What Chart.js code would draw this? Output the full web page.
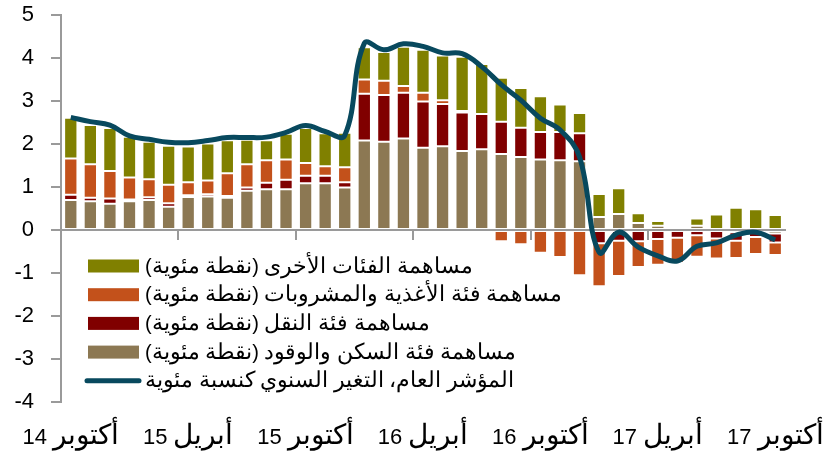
<!DOCTYPE html>
<html>
<head>
<meta charset="utf-8">
<script src="https://cdn.jsdelivr.net/npm/chart.js@4.4.1/dist/chart.umd.min.js"></script>
<style>
    @font-face {
        font-family: 'ArabicAxis';
        src: local('DejaVu Sans');
        unicode-range: U+0600-06FF, U+FB50-FDFF, U+FE70-FEFF;
        size-adjust: 128%;
    }
    @font-face {
        font-family: 'ArabicLegend';
        src: local('DejaVu Sans');
        unicode-range: U+0600-06FF, U+FB50-FDFF, U+FE70-FEFF;
        size-adjust: 112%;
    }
    html, body { margin: 0; padding: 0; background: #fff; }
    #wrap { width: 824px; height: 459px; }
</style>
</head>
<body>
<div id="wrap"><canvas id="chart" width="824" height="459"></canvas></div>
<script>
// Meses de outubro 2014 a outubro 2017
const monthNames = ['يناير', 'فبراير', 'مارس', 'أبريل', 'مايو', 'يونيو', 'يوليو', 'أغسطس', 'سبتمبر', 'أكتوبر', 'نوفمبر', 'ديسمبر'];
const categories = [];
for (let y = 14; y <= 17; y++) {
    for (let m = 0; m < 12; m++) {
        if ((y === 14 && m < 9) || (y === 17 && m > 9)) continue;
        categories.push(monthNames[m] + ' ' + y);
    }
}

// Rótulos exibidos no eixo x (a cada 6 meses)
const tickLabels = ['أكتوبر 14', 'أبريل 15', 'أكتوبر 15', 'أبريل 16', 'أكتوبر 16', 'أبريل 17', 'أكتوبر 17'];

// Contribuições (pontos percentuais)
const housing = [0.70, 0.67, 0.61, 0.67, 0.70, 0.54, 0.77, 0.78, 0.75, 0.91, 0.95, 0.95, 1.09, 1.09, 0.99,
    2.08, 2.05, 2.13, 1.91, 1.95, 1.84, 1.88, 1.77, 1.70, 1.64, 1.62, 1.60,
    0.30, 0.37, 0.16, 0.10, 0.03, 0.10, 0.00, -0.05, -0.04, -0.08];
const transport = [0.12, 0.08, 0.12, 0.04, 0.06, 0.08, 0.04, 0.05, 0.04, 0.08, 0.15, 0.22, 0.17, 0.17, 0.12,
    1.09, 1.09, 1.06, 1.08, 0.98, 0.89, 0.82, 0.75, 0.68, 0.64, 0.66, 0.65,
    -0.31, -0.25, -0.26, -0.21, -0.18, -0.12, -0.20, -0.20, -0.12, -0.21];
const food = [0.84, 0.78, 0.64, 0.51, 0.42, 0.43, 0.30, 0.32, 0.53, 0.54, 0.52, 0.47, 0.30, 0.22, 0.35,
    0.33, 0.33, 0.16, 0.20, 0.09, 0.04, -0.05, -0.26, -0.33, -0.53, -0.63, -1.05,
    -1.00, -0.82, -0.60, -0.60, -0.58, -0.50, -0.46, -0.40, -0.40, -0.29];
const other = [0.95, 0.91, 1.00, 0.95, 0.87, 0.91, 0.83, 0.86, 0.77, 0.57, 0.47, 0.60, 0.81, 0.77, 0.80,
    0.75, 0.67, 0.91, 1.00, 1.04, 1.26, 1.16, 1.02, 0.92, 0.83, 0.64, 0.47,
    0.54, 0.60, 0.23, 0.11, -0.03, 0.17, 0.36, 0.52, 0.48, 0.35];

// Índice geral, variação anual (%)
const headline = [2.62, 2.52, 2.44, 2.19, 2.11, 2.04, 2.03, 2.08, 2.15, 2.15, 2.16, 2.27, 2.43, 2.29, 2.20,
    4.34, 4.19, 4.33, 4.27, 4.12, 4.10, 3.80, 3.38, 3.02, 2.60, 2.33, 1.70,
    -0.52, -0.05, -0.40, -0.60, -0.72, -0.38, -0.30, -0.12, -0.05, -0.23];

const AXIS_FONT = '"ArabicAxis", "Liberation Sans", Arial, sans-serif';
const LEGEND_FONT = '"ArabicLegend", "Liberation Sans", Arial, sans-serif';
const AXIS_GRAY = '#9a9a9a';

// Legenda desenhada dentro da área do gráfico
const insideLegend = {
    id: 'insideLegend',
    afterDraw(chart) {
        const ctx = chart.ctx;
        const x0 = chart.chartArea.left + 27;
        const y0 = chart.chartArea.top + 251;
        const step = 28.7;
        const order = [3, 2, 1, 0, 4];
        ctx.save();
        order.forEach((idx, i) => {
            const ds = chart.data.datasets[idx];
            const cy = y0 + i * step;
            if (ds.type === 'line') {
                ctx.strokeStyle = ds.borderColor;
                ctx.lineWidth = 5;
                ctx.lineCap = 'round';
                ctx.beginPath();
                ctx.moveTo(x0 - 1, cy);
                ctx.lineTo(x0 + 51, cy);
                ctx.stroke();
            } else {
                ctx.fillStyle = ds.backgroundColor;
                ctx.fillRect(x0, cy - 6.5, 51, 13);
            }
            ctx.fillStyle = '#000';
            ctx.font = '20px ' + LEGEND_FONT;
            ctx.direction = 'rtl';
            ctx.textAlign = 'left';
            ctx.textBaseline = 'middle';
            ctx.fillText(ds.label, x0 + 57, cy + 1);
        });
        ctx.restore();
    }
};

const barStyle = { borderWidth: 1, borderColor: 'rgba(255,255,255,0.35)', borderSkipped: false, order: 1,
    categoryPercentage: 0.8, barPercentage: 0.85 };

function drawChart() {
    new Chart(document.getElementById('chart'), {
        type: 'bar',
        data: {
            labels: categories,
            datasets: [
                Object.assign({ label: 'مساهمة فئة السكن والوقود (نقطة مئوية)', data: housing, backgroundColor: '#8c7853' }, barStyle),
                Object.assign({ label: 'مساهمة فئة النقل (نقطة مئوية)', data: transport, backgroundColor: '#800000' }, barStyle),
                Object.assign({ label: 'مساهمة فئة الأغذية والمشروبات (نقطة مئوية)', data: food, backgroundColor: '#c3511b' }, barStyle),
                Object.assign({ label: 'مساهمة الفئات الأخرى (نقطة مئوية)', data: other, backgroundColor: '#808000' }, barStyle),
                {
                    type: 'line',
                    label: 'المؤشر العام، التغير السنوي كنسبة مئوية',
                    data: headline,
                    stack: 'line',
                    order: 0,
                    borderColor: '#08495e',
                    borderWidth: 5,
                    pointRadius: 0,
                    tension: 0.4,
                    fill: false
                }
            ]
        },
        options: {
            responsive: false,
            animation: false,
            devicePixelRatio: 1,
            layout: { padding: { top: 15, right: 39, left: 0, bottom: 0 } },
            plugins: {
                legend: { display: false },
                tooltip: { enabled: false }
            },
            scales: {
                x: {
                    stacked: true,
                    offset: true,
                    grid: { display: false, drawTicks: false },
                    border: { display: false },
                    ticks: {
                        autoSkip: false,
                        maxRotation: 0,
                        padding: 23,
                        color: '#000',
                        font: { family: AXIS_FONT, size: 22 },
                        callback: (v, i) => (i % 6 === 0 ? tickLabels[i / 6] : '')
                    },
                    afterFit: s => { s.height = 57; s.paddingLeft = 0; s.paddingRight = 0; }
                },
                x2: {
                    type: 'category',
                    position: { y: 0 },
                    offset: true,
                    grid: {
                        offset: true,
                        drawOnChartArea: false,
                        drawTicks: true,
                        tickLength: 9,
                        lineWidth: 2,
                        color: c => (c.index % 6 === 0 && c.index < 36 ? AXIS_GRAY : 'rgba(0,0,0,0)')
                    },
                    border: { display: true, color: AXIS_GRAY, width: 2 },
                    ticks: { display: false, autoSkip: false }
                },
                y: {
                    stacked: true,
                    min: -4,
                    max: 5,
                    ticks: { stepSize: 1, padding: 17, color: '#000', font: { family: AXIS_FONT, size: 22 } },
                    grid: { drawOnChartArea: false, drawTicks: true, tickLength: 10, color: AXIS_GRAY, lineWidth: 2 },
                    border: { display: true, color: AXIS_GRAY, width: 2 },
                    afterFit: s => { s.width = 61; s.paddingTop = 0; s.paddingBottom = 0; }
                }
            }
        },
        plugins: [insideLegend]
    });
}

Promise.all([
    document.fonts.load('20px ArabicAxis', 'أكتوبر'),
    document.fonts.load('20px ArabicLegend', 'مساهمة')
]).then(drawChart, drawChart);
</script>
</body>
</html>
